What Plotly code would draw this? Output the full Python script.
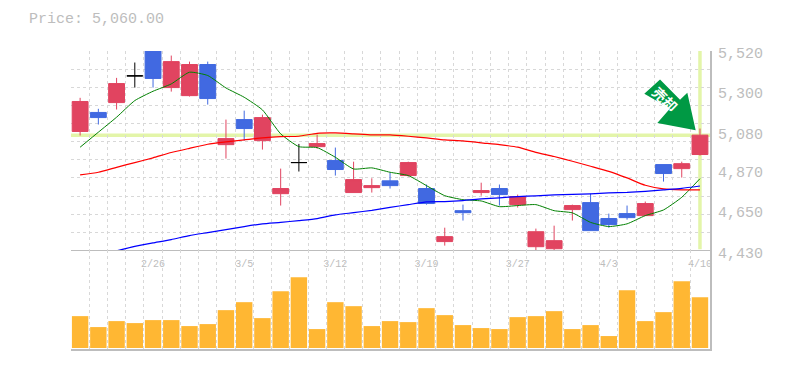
import plotly.graph_objects as go

dates = ["2/20","2/21","2/22","2/23","2/26","2/27","2/28","3/1","3/2","3/5","3/6","3/7","3/8","3/9","3/12","3/13","3/14","3/15","3/16","3/19","3/20","3/22","3/23","3/26","3/27","3/28","3/29","3/30","4/2","4/3","4/4","4/5","4/6","4/9","4/10"]
opens = [5080,5184,5238,5384,5525,5320,5276,5446,5008,5145,5030,4740,4910,4997,4921,4746,4773,4810,4839,4768,4478,4647,4746,4768,4680,4450,4439,4653,4691,4604,4631,4620,4899,4877,4954]
highs = [5264,5204,5373,5457,5540,5495,5462,5462,5145,5194,5172,4877,5012,5063,4992,4915,4824,4855,4915,4790,4554,4680,4800,4790,4735,4549,4565,4680,4740,4631,4675,4697,4899,4915,5096]
lows = [5058,5118,5200,5320,5320,5298,5271,5227,4932,5030,4981,4675,4861,4986,4839,4746,4746,4768,4833,4680,4456,4593,4729,4675,4664,4423,4423,4593,4538,4554,4598,4620,4806,4828,4948]
closes = [5244,5156,5342,5384,5370,5462,5446,5260,5041,5096,5156,4768,4910,5014,4872,4817,4784,4784,4910,4686,4505,4636,4757,4735,4724,4532,4483,4675,4538,4571,4609,4686,4850,4904,5060]
volumes = [32,21,27,25,28,28,22,24,38,46,30,57,71,19,46,42,22,27,26,40,33,23,20,19,31,32,37,19,23,12,58,27,36,67,51]
ma5 = [4994,5076,5158,5249,5300,5340,5404,5386,5318,5267,5198,5067,4997,4992,4939,4875,4881,4857,4839,4784,4729,4707,4700,4669,4675,4680,4647,4635,4583,4560,4575,4620,4651,4720,4822]
ma25 = [4843,4857,4884,4910,4936,4965,4988,5010,5023,5034,5045,5052,5054,5070,5072,5067,5061,5061,5054,5045,5034,5029,5018,5008,4994,4966,4943,4917,4890,4862,4826,4786,4766,4761,4761]
ma75 = [None,None,4427,4452,4471,4489,4511,4527,4543,4560,4575,4583,4593,4604,4624,4636,4649,4665,4680,4695,4697,4702,4711,4717,4724,4728,4733,4736,4739,4744,4747,4753,4761,4769,4782]
price_ticks = [5520,5300,5080,4870,4650,4430]
price_labels = ["5,520","5,300","5,080","4,870","4,650","4,430"]
price_grid = [5519,5420,5321,5222,5123,5024,4925,4826,4727,4628,4529]
date_tick_index = [4,9,14,19,24,29,34]
last_price = 5060

FONT = "Liberation Mono"
GRAY = "#bdbdbd"
GRID = "#d8d8d8"
RED = "#e14460"
BLUE = "#4169e1"

idx = list(range(len(dates)))
doji = [i for i in idx if i in (3, 12)]
rest = [i for i in idx if i not in doji]
half_grid = [i - 0.5 for i in range(len(dates) + 1)]

fig = go.Figure()
fig.add_trace(go.Bar(x=idx, y=volumes, marker=dict(color="#ffb733", line_width=0), xaxis="x2", yaxis="y2", hoverinfo="skip"))
fig.add_trace(go.Candlestick(
    x=rest,
    open=[opens[i] for i in rest], high=[highs[i] for i in rest],
    low=[lows[i] for i in rest], close=[closes[i] for i in rest],
    increasing=dict(line=dict(color=RED, width=1), fillcolor=RED),
    decreasing=dict(line=dict(color=BLUE, width=1), fillcolor=BLUE),
    xaxis="x", yaxis="y"))
fig.add_trace(go.Candlestick(
    x=doji,
    open=[opens[i] for i in doji], high=[highs[i] for i in doji],
    low=[lows[i] for i in doji], close=[closes[i] for i in doji],
    increasing=dict(line=dict(color="#000000", width=1), fillcolor="#000000"),
    decreasing=dict(line=dict(color="#000000", width=1), fillcolor="#000000"),
    xaxis="x", yaxis="y"))
fig.add_trace(go.Scatter(x=idx, y=ma5, mode="lines", line=dict(color="#008000", width=1, shape="spline", smoothing=0.5), xaxis="x", yaxis="y"))
fig.add_trace(go.Scatter(x=idx, y=ma25, mode="lines", line=dict(color="#ff0000", width=1.2, shape="spline", smoothing=0.5), xaxis="x", yaxis="y"))
fig.add_trace(go.Scatter(x=idx, y=ma75, mode="lines", line=dict(color="#0000ff", width=1.2, shape="spline", smoothing=0.5), xaxis="x", yaxis="y"))

W, H = 785, 370
PLOT_TOP, PLOT_BOTTOM, PANEL_SPLIT = 50.5, 349.5, 0.331
PLOT_H = PLOT_BOTTOM - PLOT_TOP
def px(x): return x / W
def py(y): return 1 - y / H
def fx(x): return (x - 70.7) / 639.3
def fy(y): return (PLOT_BOTTOM - y) / PLOT_H

arrow_outline = [(644.3, 93.3), (660, 79), (680, 99.3), (687.3, 92.3), (695.7, 130), (657.3, 122.7), (670, 108.3)]
arrow_path = "M " + " L ".join("{:.4f},{:.4f}".format(fx(a), fy(b)) for a, b in arrow_outline) + " Z"

fig.update_layout(
    width=W, height=H, autosize=False, showlegend=False,
    margin=dict(l=70.7, r=75, t=PLOT_TOP, b=H - PLOT_BOTTOM, pad=0, autoexpand=False),
    paper_bgcolor="#ffffff", plot_bgcolor="#ffffff",
    boxgap=0.13, boxgroupgap=0, bargap=0.1,
    title=dict(text="Price: 5,060.00", x=px(29), y=py(18), xref="container", yref="container",
               xanchor="left", yanchor="middle", font=dict(family=FONT, size=15, color=GRAY)),
    xaxis=dict(domain=[0, 1], range=[-0.5, 34.55], anchor="y", rangeslider=dict(visible=False),
               tickmode="array", tickvals=date_tick_index, ticktext=[dates[i] for i in date_tick_index],
               ticks="", showgrid=False, zeroline=False, showline=True, linecolor=GRAY, linewidth=1,
               ticklabelstandoff=4,
               tickfont=dict(family=FONT, size=10, color=GRAY),
               minor=dict(tickmode="array", tickvals=half_grid, showgrid=True, gridcolor=GRID, griddash="3px,3px", gridwidth=1, ticks="")),
    yaxis=dict(domain=[PANEL_SPLIT, 1], range=[4430, 5520], side="right", anchor="x",
               tickmode="array", tickvals=price_ticks, ticktext=price_labels,
               ticks="", showgrid=False, zeroline=False, showline=True, linecolor=GRAY, linewidth=2,
               ticklabelstandoff=3, ticklabelshift=2,
               tickfont=dict(family=FONT, size=15, color=GRAY),
               minor=dict(tickmode="array", tickvals=price_grid, showgrid=True, gridcolor=GRID, griddash="3px,3px", gridwidth=1, ticks="")),
    xaxis2=dict(domain=[0, 1], range=[-0.5, 34.55], anchor="y2", showticklabels=False,
                ticks="", showgrid=False, zeroline=False, showline=True, linecolor=GRAY, linewidth=2,
                minor=dict(tickmode="array", tickvals=half_grid, showgrid=True, gridcolor=GRID, griddash="3px,3px", gridwidth=1, ticks="")),
    yaxis2=dict(domain=[0, PANEL_SPLIT], range=[-1, 98], side="right", anchor="x2", showticklabels=False,
                ticks="", showgrid=False, zeroline=False, showline=True, linecolor=GRAY, linewidth=2),
    shapes=[
        dict(type="line", xref="paper", yref="y", x0=0, x1=1, y0=last_price, y1=last_price,
             line=dict(color="#e3f5a9", width=3.5), layer="below"),
        dict(type="line", xref="x", yref="y", x0=34, x1=34, y0=4436, y1=5520,
             line=dict(color="#e3f5a9", width=3.5), layer="below"),
        dict(type="path", xref="paper", yref="paper", layer="above", line_width=0, fillcolor="#009944", path=arrow_path),
    ],
    annotations=[
        dict(text="<b>売却</b>", xref="paper", yref="paper", x=fx(665), y=fy(99),
             xanchor="center", yanchor="middle",
             showarrow=False, textangle=45, font=dict(family="Noto Sans CJK JP", size=14, color="#ffffff"))
    ],
)
fig.write_html("out.html", post_script="document.body.style.margin='0';", config={"displayModeBar": False})
